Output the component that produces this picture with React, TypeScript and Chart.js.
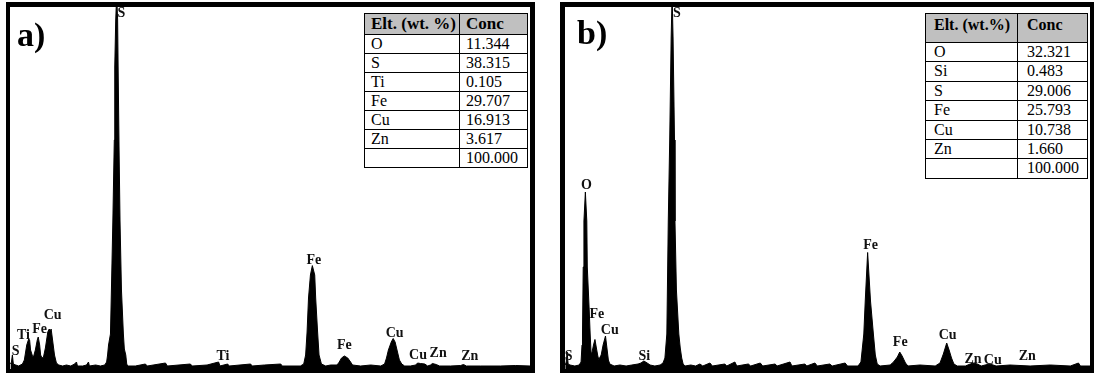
import React, { useEffect, useRef } from "react";
import { Chart, registerables } from "chart.js";

Chart.register(...registerables);

// ---------- DATA ----------
// Panel a) spectrum: [energy keV, counts]
const spectrumA: [number, number][] = [
  [0.09, 50], [0.11, 70], [0.13, 140], [0.15, 50], [0.2, 40], [0.26, 30], [0.34, 50], [0.38, 90],
  [0.43, 240], [0.47, 300], [0.49, 290], [0.51, 190], [0.55, 130], [0.57, 120], [0.61, 190], [0.65, 290],
  [0.67, 320], [0.7, 240], [0.72, 140], [0.75, 110], [0.78, 120], [0.82, 210], [0.87, 370], [0.9, 400],
  [0.92, 380], [0.94, 400], [0.97, 290], [1.01, 140], [1.05, 60], [1.1, 40], [1.18, 30], [1.26, 40],
  [1.35, 30], [1.43, 50], [1.47, 70], [1.49, 30], [1.6, 30], [1.68, 40], [1.72, 70], [1.74, 30],
  [1.87, 40], [1.97, 30], [2.06, 40], [2.1, 70], [2.12, 140], [2.14, 240], [2.18, 350], [2.2, 790],
  [2.23, 1480], [2.26, 2290], [2.27, 3020], [2.29, 3490], [2.31, 3740], [2.33, 3490], [2.34, 3020],
  [2.36, 2190], [2.38, 1480], [2.41, 790], [2.45, 350], [2.47, 200], [2.5, 140], [2.52, 50], [2.54, 30],
  [2.7, 30], [2.91, 50], [2.95, 30], [3.33, 60], [3.37, 30], [3.85, 50], [3.89, 30], [4.2, 40],
  [4.44, 70], [4.47, 30], [4.63, 50], [4.66, 30], [5.11, 50], [5.14, 30], [5.4, 40], [5.74, 50],
  [5.77, 30], [6.15, 30], [6.22, 50], [6.26, 140], [6.29, 370], [6.32, 710], [6.36, 940], [6.4, 1034],
  [6.45, 940], [6.47, 710], [6.51, 370], [6.54, 140], [6.59, 50], [6.68, 30], [6.78, 40], [6.91, 40],
  [6.95, 60], [7.01, 110], [7.07, 130], [7.14, 110], [7.2, 70], [7.24, 40], [7.41, 30], [7.62, 40],
  [7.83, 30], [7.91, 50], [7.95, 110], [7.99, 190], [8.05, 270], [8.09, 305], [8.13, 270], [8.18, 170],
  [8.22, 90], [8.27, 50], [8.33, 30], [8.45, 30], [8.56, 40], [8.6, 60], [8.66, 55], [8.75, 50],
  [8.81, 30], [8.87, 40], [8.91, 55], [8.99, 45], [9.06, 30], [9.29, 30], [9.5, 35], [9.56, 45],
  [9.62, 30], [9.92, 30], [10.33, 30], [10.65, 35], [10.96, 30],
];

// Panel b) spectrum: [energy keV, counts]
const spectrumB: [number, number][] = [
  [0.08, 40], [0.1, 70], [0.12, 170], [0.14, 50], [0.18, 40], [0.28, 30], [0.37, 40], [0.41, 70],
  [0.43, 240], [0.44, 350], [0.455, 1020], [0.47, 1480], [0.5, 1770], [0.53, 1480], [0.54, 1020],
  [0.58, 590], [0.6, 350], [0.62, 150], [0.64, 170], [0.67, 240], [0.7, 295], [0.73, 210], [0.76, 130],
  [0.78, 95], [0.83, 140], [0.87, 240], [0.92, 330], [0.95, 210], [0.98, 90], [1.01, 50], [1.1, 30],
  [1.22, 40], [1.35, 30], [1.47, 40], [1.6, 50], [1.66, 60], [1.72, 80], [1.79, 60], [1.85, 40],
  [1.95, 30], [2.06, 40], [2.12, 60], [2.16, 110], [2.2, 350], [2.23, 1480], [2.26, 2290], [2.29, 3310],
  [2.31, 3740], [2.33, 3310], [2.36, 2290], [2.37, 1480], [2.4, 790], [2.45, 350], [2.48, 210],
  [2.51, 110], [2.54, 50], [2.58, 30], [2.7, 40], [2.8, 30], [2.89, 50], [2.95, 30], [3.1, 60],
  [3.15, 30], [3.41, 50], [3.45, 30], [3.62, 70], [3.66, 30], [3.9, 50], [3.95, 30], [4.15, 60],
  [4.2, 30], [4.46, 50], [4.5, 30], [4.77, 70], [4.81, 30], [5.08, 50], [5.12, 30], [5.29, 60],
  [5.34, 30], [5.6, 50], [5.65, 30], [5.92, 60], [5.97, 30], [6.19, 30], [6.25, 70], [6.31, 350],
  [6.34, 680], [6.39, 1165], [6.45, 680], [6.51, 350], [6.55, 140], [6.59, 50], [6.65, 30], [6.86, 40],
  [6.93, 70], [7.01, 120], [7.06, 170], [7.11, 130], [7.18, 60], [7.23, 30], [7.48, 40], [7.8, 30],
  [7.9, 60], [7.97, 150], [8.04, 260], [8.09, 190], [8.14, 110], [8.19, 50], [8.26, 30], [8.43, 30],
  [8.53, 50], [8.59, 60], [8.68, 50], [8.76, 30], [8.84, 40], [8.93, 50], [9.01, 40], [9.07, 30],
  [9.36, 40], [9.78, 30], [10.2, 40], [10.62, 30], [10.79, 60], [10.83, 30], [11.03, 30],
];

// Peak labels: [energy keV, counts at label bottom, text]
const peakLabelsA: [number, number, string][] = [
  [0.2, 140, "S"], [0.36, 300, "Ti"], [0.7, 360, "Fe"], [0.97, 500, "Cu"], [2.41, 3520, "S"],
  [4.53, 90, "Ti"], [6.43, 1050, "Fe"], [7.07, 200, "Fe"], [8.12, 320, "Cu"], [8.61, 100, "Cu"],
  [9.03, 120, "Zn"], [9.69, 90, "Zn"],
];
const peakLabelsB: [number, number, string][] = [
  [0.15, 90, "S"], [0.52, 1800, "O"], [0.74, 510, "Fe"], [1.01, 350, "Cu"], [1.73, 90, "Si"],
  [2.41, 3520, "S"], [6.45, 1200, "Fe"], [7.07, 230, "Fe"], [8.06, 305, "Cu"], [8.59, 60, "Zn"],
  [9.0, 50, "Cu"], [9.72, 90, "Zn"],
];

// Composition tables
const tableHeaderA = ["Elt. (wt. %)", "Conc"];
const elementsA = ["O", "S", "Ti", "Fe", "Cu", "Zn", ""];
const concA = ["11.344", "38.315", "0.105", "29.707", "16.913", "3.617", "100.000"];

const tableHeaderB = ["Elt. (wt.%)", "Conc"];
const elementsB = ["O", "Si", "S", "Fe", "Cu", "Zn", ""];
const concB = ["32.321", "0.483", "29.006", "25.793", "10.738", "1.660", "100.000"];

// Axis ranges
const xRangeA: [number, number] = [0.08, 10.95];
const xRangeB: [number, number] = [0.075, 11.03];
const yRange: [number, number] = [0, 3620];

// ---------- COMPONENTS ----------
const SERIF = '"Liberation Serif", "Times New Roman", serif';

const peakLabelPlugin = {
  id: "peakLabels",
  afterDatasetsDraw(chart: any, _args: any, opts: any) {
    const labels: [number, number, string][] = opts.labels || [];
    const ctx = chart.ctx;
    const xs = chart.scales.x;
    const ys = chart.scales.y;
    ctx.save();
    ctx.font = `bold 14px ${SERIF}`;
    ctx.fillStyle = "#111";
    ctx.textAlign = "center";
    ctx.textBaseline = "alphabetic";
    for (const [e, c, t] of labels) {
      ctx.fillText(t, xs.getPixelForValue(e), ys.getPixelForValue(c));
    }
    ctx.restore();
  },
};

function Spectrum(props: {
  data: [number, number][];
  labels: [number, number, string][];
  xRange: [number, number];
  width: number;
  height: number;
}) {
  const ref = useRef<HTMLCanvasElement>(null);
  useEffect(() => {
    if (!ref.current) return;
    const chart = new Chart(ref.current, {
      type: "line",
      data: {
        datasets: [
          {
            data: props.data.map(([x, y]) => ({ x, y })),
            borderColor: "#000",
            backgroundColor: "#000",
            borderWidth: 1,
            pointRadius: 0,
            tension: 0,
            fill: "start",
          },
        ],
      },
      options: {
        animation: false,
        responsive: false,
        maintainAspectRatio: false,
        layout: { padding: 0 },
        events: [],
        scales: {
          x: { type: "linear", min: props.xRange[0], max: props.xRange[1], display: false },
          y: { type: "linear", min: yRange[0], max: yRange[1], display: false },
        },
        plugins: {
          legend: { display: false },
          tooltip: { enabled: false },
          // @ts-ignore
          peakLabels: { labels: props.labels },
        },
      },
      plugins: [peakLabelPlugin as any],
    });
    return () => chart.destroy();
  }, []);
  return <canvas ref={ref} width={props.width} height={props.height} style={{ width: props.width, height: props.height, display: "block" }} />;
}

function CompTable(props: {
  header: string[];
  elements: string[];
  conc: string[];
  left: number;
  top: number;
  col1: number;
  col2: number;
  headerH: number;
  rowH: number;
  pad1: number;
  pad2: number;
  headerPadTop: number;
  headerSize: number;
}) {
  const { header, elements, conc, left, top, col1, col2, headerH, rowH } = props;
  const total = Math.round(headerH + rowH * elements.length);
  const cells: React.ReactNode[] = [];
  const cellStyle = (x: number, y: number, w: number, h: number, pad: number): React.CSSProperties => ({
    position: "absolute",
    left: x,
    top: y,
    width: w,
    height: h,
    paddingLeft: pad,
    boxSizing: "border-box",
    fontFamily: SERIF,
    fontSize: 16,
    lineHeight: "19px",
    color: "#000",
    whiteSpace: "nowrap",
  });
  cells.push(
    <div key="hbg" style={{ position: "absolute", left: 0, top: 0, width: col1 + col2, height: headerH, background: "#c0c0c0" }} />
  );
  cells.push(
    <div key="h1" style={{ ...cellStyle(0, 0, col1, headerH, props.pad1), fontWeight: "bold", fontSize: props.headerSize, paddingTop: props.headerPadTop }}>{header[0]}</div>
  );
  cells.push(
    <div key="h2" style={{ ...cellStyle(col1, 0, col2, headerH, props.pad2), fontWeight: "bold", fontSize: props.headerSize, paddingTop: props.headerPadTop }}>{header[1]}</div>
  );
  for (let i = 0; i < elements.length; i++) {
    const y0 = Math.round(headerH + rowH * i);
    const y1 = Math.round(headerH + rowH * (i + 1));
    const h = y1 - y0;
    cells.push(<div key={"e" + i} style={{ ...cellStyle(0, y0, col1, h, props.pad1), lineHeight: h + "px" }}>{elements[i]}</div>);
    cells.push(<div key={"c" + i} style={{ ...cellStyle(col1, y0, col2, h, props.pad2), lineHeight: h + "px" }}>{conc[i]}</div>);
    cells.push(<div key={"l" + i} style={{ position: "absolute", left: 0, top: y0, width: col1 + col2, height: 1, background: "#000" }} />);
  }
  cells.push(<div key="vdiv" style={{ position: "absolute", left: col1, top: 0, width: 1, height: total, background: "#000" }} />);
  return (
    <div
      style={{
        position: "absolute",
        left,
        top,
        width: col1 + col2,
        height: total,
        border: "1px solid #000",
        boxSizing: "content-box",
        background: "#fff",
      }}
    >
      {cells}
    </div>
  );
}

export default function App() {
  return (
    <div style={{ position: "absolute", left: 0, top: 0, width: 1094, height: 378, background: "#fff", overflow: "hidden" }}>
      {/* Panel a */}
      <div
        style={{
          position: "absolute",
          left: 6,
          top: 2,
          width: 529,
          height: 371,
          boxSizing: "border-box",
          borderStyle: "solid",
          borderColor: "#000",
          borderWidth: "5px 5px 4px 4px",
        }}
      />
      <div style={{ position: "absolute", left: 10, top: 7 }}>
        <Spectrum data={spectrumA} labels={peakLabelsA} xRange={xRangeA} width={520} height={362} />
      </div>
      <div style={{ position: "absolute", left: 17, top: 18, fontFamily: SERIF, fontWeight: "bold", fontSize: 34, lineHeight: "34px" }}>a)</div>
      <CompTable
        header={tableHeaderA}
        elements={elementsA}
        conc={concA}
        left={364}
        top={13}
        col1={94}
        col2={68}
        headerH={20}
        rowH={19}
        pad1={6}
        pad2={7}
        headerPadTop={0}
        headerSize={17}
      />

      {/* Panel b */}
      <div
        style={{
          position: "absolute",
          left: 560,
          top: 2,
          width: 534,
          height: 371,
          boxSizing: "border-box",
          borderStyle: "solid",
          borderColor: "#000",
          borderWidth: "5px 4px 4px 5px",
        }}
      />
      <div style={{ position: "absolute", left: 565, top: 7 }}>
        <Spectrum data={spectrumB} labels={peakLabelsB} xRange={xRangeB} width={525} height={362} />
      </div>
      <div style={{ position: "absolute", left: 577, top: 16, fontFamily: SERIF, fontWeight: "bold", fontSize: 34, lineHeight: "34px" }}>b)</div>
      <CompTable
        header={tableHeaderB}
        elements={elementsB}
        conc={concB}
        left={925}
        top={13}
        col1={91}
        col2={70}
        headerH={28}
        rowH={19.4}
        pad1={8}
        pad2={10}
        headerPadTop={1}
        headerSize={16}
      />
    </div>
  );
}
